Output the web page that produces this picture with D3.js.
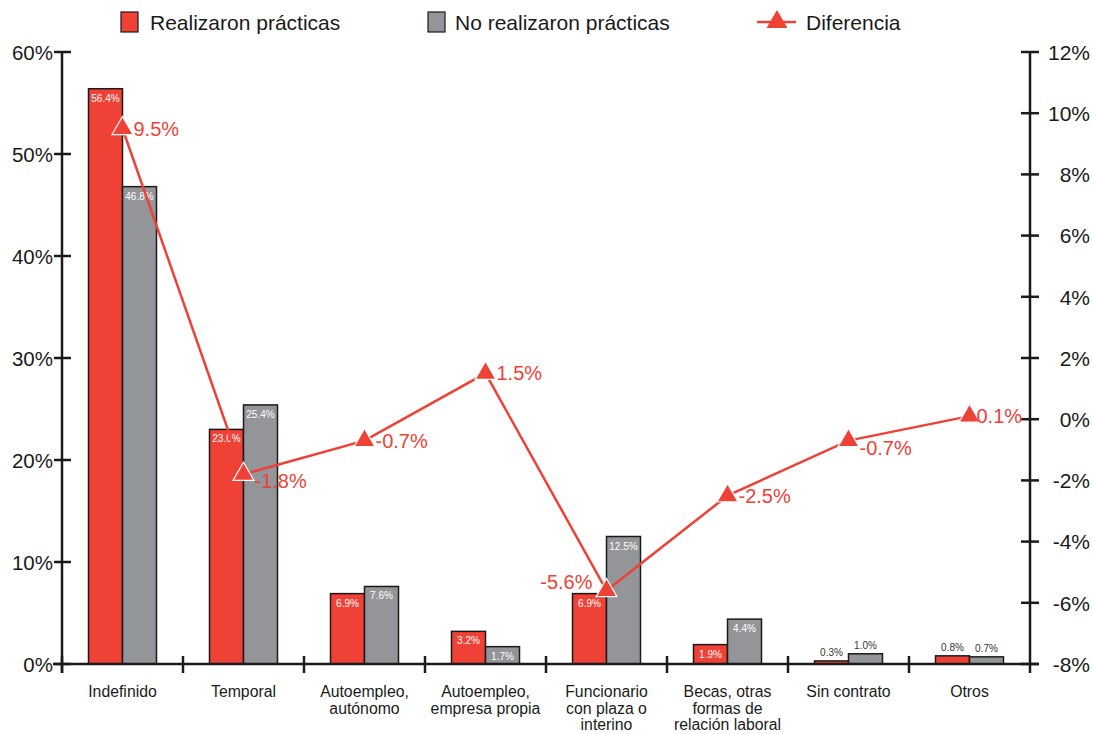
<!DOCTYPE html>
<html>
<head>
<meta charset="utf-8">
<script src="https://cdn.jsdelivr.net/npm/d3@7"></script>
<style>
  body { margin: 0; background: #fff; }
  text { font-family: "Liberation Sans", Arial, sans-serif; }
</style>
</head>
<body>
<div id="chart-area"></div>
<script>
var categories = ["Indefinido", "Temporal", "Autoempleo, autónomo", "Autoempleo, empresa propia",
	"Funcionario con plaza o interino", "Becas, otras formas de relación laboral", "Sin contrato", "Otros"];
var categoryLines = [["Indefinido"], ["Temporal"], ["Autoempleo,", "autónomo"], ["Autoempleo,", "empresa propia"],
	["Funcionario", "con plaza o", "interino"], ["Becas, otras", "formas de", "relación laboral"], ["Sin contrato"], ["Otros"]];
var realizaron = [56.4, 23.0, 6.9, 3.2, 6.9, 1.9, 0.3, 0.8];
var noRealizaron = [46.8, 25.4, 7.6, 1.7, 12.5, 4.4, 1.0, 0.7];
var diferencia = [9.5, -1.8, -0.7, 1.5, -5.6, -2.5, -0.7, 0.1];
var leftTicks = [0, 10, 20, 30, 40, 50, 60];
var rightTicks = [-8, -6, -4, -2, 0, 2, 4, 6, 8, 10, 12];

var red = "#ef4136";
var gray = "#939598";
var dark = "#1a1a1a";

var width = 1093;
var height = 734;
var plotLeft = 62, plotRight = 1030, plotTop = 52, plotBottom = 664;

var svg = d3.select("#chart-area")
	.append("svg")
	.attr("width", width)
	.attr("height", height);

var x = d3.scaleBand()
	.domain(categories)
	.range([plotLeft, plotRight]);

var y = d3.scaleLinear()
	.domain([0, 60])
	.range([plotBottom, plotTop]);

var y2 = d3.scaleLinear()
	.domain([-8, 12])
	.range([plotBottom, plotTop]);

var barW = 34;

// bars
var bars = svg.append("g");
categories.forEach((c, i) => {
	var cx = x(c) + x.bandwidth() / 2;
	[[realizaron[i], red, cx - barW], [noRealizaron[i], gray, cx]].forEach((b) => {
		var v = b[0];
		bars.append("rect")
			.attr("x", b[2])
			.attr("y", y(v))
			.attr("width", barW)
			.attr("height", y(0) - y(v))
			.attr("fill", b[1])
			.attr("stroke", dark)
			.attr("stroke-width", 1.5);
		var inside = v >= 1.5;
		bars.append("text")
			.attr("x", b[2] + barW / 2)
			.attr("y", inside ? y(v) + 13 : y(v) - 5)
			.attr("text-anchor", "middle")
			.attr("font-size", "10px")
			.attr("fill", inside ? "#fff" : "#333")
			.text(v.toFixed(1) + "%");
	});
});

// axes
var leftAxis = svg.append("g")
	.attr("transform", "translate(" + plotLeft + ",0)")
	.call(d3.axisLeft(y).tickValues(leftTicks).tickSize(0).tickFormat((d) => d + "%"));
leftAxis.select(".domain").remove();
leftAxis.selectAll("text").attr("x", -9).attr("dy", "0.35em").attr("font-size", "20.5px").attr("fill", dark)
	.style("font-family", "'Liberation Sans', Arial, sans-serif");

var rightAxis = svg.append("g")
	.attr("transform", "translate(" + plotRight + ",0)")
	.call(d3.axisRight(y2).tickValues(rightTicks).tickSize(0).tickFormat((d) => d + "%"));
rightAxis.select(".domain").remove();
rightAxis.selectAll("text").attr("x", 60).attr("text-anchor", "end").attr("dy", "0.35em").attr("font-size", "21px").attr("fill", dark)
	.style("font-family", "'Liberation Sans', Arial, sans-serif");

var axisLines = svg.append("g")
	.attr("stroke", dark)
	.attr("stroke-width", 2.5);

axisLines.append("line").attr("x1", plotLeft).attr("x2", plotLeft).attr("y1", plotTop).attr("y2", plotBottom + 9);
axisLines.append("line").attr("x1", plotRight).attr("x2", plotRight).attr("y1", plotTop).attr("y2", plotBottom + 9);
axisLines.append("line").attr("x1", plotLeft - 9).attr("x2", plotRight + 9).attr("y1", plotBottom).attr("y2", plotBottom);

leftTicks.forEach((t) => {
	axisLines.append("line").attr("x1", plotLeft - 8).attr("x2", plotLeft + 9).attr("y1", y(t)).attr("y2", y(t));
});
rightTicks.forEach((t) => {
	axisLines.append("line").attr("x1", plotRight - 9).attr("x2", plotRight + 9).attr("y1", y2(t)).attr("y2", y2(t));
});
categories.forEach((c) => {
	axisLines.append("line").attr("x1", x(c)).attr("x2", x(c)).attr("y1", plotBottom - 8).attr("y2", plotBottom + 9);
});

// category labels
categories.forEach((c, i) => {
	var t = svg.append("text")
		.attr("x", x(c) + x.bandwidth() / 2)
		.attr("y", 697)
		.attr("text-anchor", "middle")
		.attr("font-size", "15.8px")
		.attr("fill", dark);
	categoryLines[i].forEach((l, j) => {
		t.append("tspan")
			.attr("x", x(c) + x.bandwidth() / 2)
			.attr("dy", j == 0 ? 0 : 16.5)
			.text(l);
	});
});

// difference line
var line = d3.line()
	.x((d, i) => x(categories[i]) + x.bandwidth() / 2)
	.y((d) => y2(d));

svg.append("path")
	.datum(diferencia)
	.attr("d", line)
	.attr("fill", "none")
	.attr("stroke", red)
	.attr("stroke-width", 2.5);

var tri = d3.symbol().type(d3.symbolTriangle).size(190);

diferencia.forEach((d, i) => {
	var px = x(categories[i]) + x.bandwidth() / 2;
	var py = y2(d);
	svg.append("path")
		.attr("d", tri)
		.attr("transform", "translate(" + px + "," + py + ")")
		.attr("fill", red)
		.attr("stroke", "#fff")
		.attr("stroke-width", 1.2);
	// label placement tweaks to dodge the line
	var onLeft = i == 4;
	var dy = (i == 1 || i == 6) ? 14 : 7;
	var dx = i == 7 ? 7 : 11;
	svg.append("text")
		.attr("x", onLeft ? px - 14 : px + dx)
		.attr("y", onLeft ? py - 2 : py + dy)
		.attr("text-anchor", onLeft ? "end" : "start")
		.attr("font-size", "20px")
		.attr("fill", red)
		.text(d.toFixed(1) + "%");
});

// legend
var legend = svg.append("g");
legend.append("rect").attr("x", 121).attr("y", 12).attr("width", 17).attr("height", 20)
	.attr("fill", red).attr("stroke", dark).attr("stroke-width", 1.2);
legend.append("text").attr("x", 150).attr("y", 30).attr("font-size", "21px").attr("fill", dark).text("Realizaron prácticas");
legend.append("rect").attr("x", 428).attr("y", 12).attr("width", 17).attr("height", 20)
	.attr("fill", gray).attr("stroke", dark).attr("stroke-width", 1.2);
legend.append("text").attr("x", 455).attr("y", 30).attr("font-size", "21px").attr("fill", dark).text("No realizaron prácticas");
legend.append("line").attr("x1", 757).attr("x2", 796).attr("y1", 22).attr("y2", 22)
	.attr("stroke", red).attr("stroke-width", 2.5);
legend.append("path").attr("d", tri).attr("transform", "translate(777,22)").attr("fill", red);
legend.append("text").attr("x", 806).attr("y", 30).attr("font-size", "21px").attr("fill", dark).text("Diferencia");
</script>
</body>
</html>
